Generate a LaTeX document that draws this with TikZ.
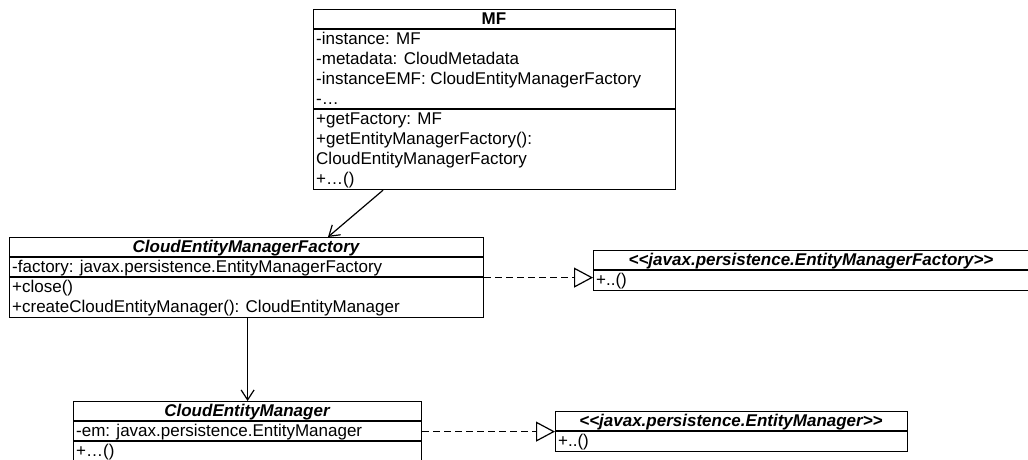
\documentclass[tikz,border=0pt]{standalone}
\usepackage{fontspec}
\newfontfamily\umlfont{Liberation Sans}
\usetikzlibrary{arrows.meta}
\tikzset{
  umlbox/.style={draw, line width=1.2pt, inner sep=0pt, anchor=north west},
  sep/.style={line width=1.2pt},
  member/.style={anchor=base west, inner sep=0pt, font=\umlfont\fontsize{17}{20}\selectfont},
  classname/.style={anchor=base, inner sep=0pt, font=\umlfont\fontsize{17}{20}\selectfont\bfseries},
  abstractname/.style={classname, font=\umlfont\fontsize{17}{20}\selectfont\bfseries\itshape},
  assoc/.style={line width=1.2pt, -{Straight Barb[length=10pt,width=13pt,line width=1.2pt]}},
  realize/.style={line width=1.2pt, dash pattern=on 7pt off 4pt,
    -{Triangle[open,length=19pt,width=20pt,line width=1.2pt,fill=white]}}
}
\begin{document}
\begin{tikzpicture}[x=1pt,y=-1pt]
\useasboundingbox (0,0) rectangle (1028,459);

% class MF
\node[umlbox, minimum width=362pt, minimum height=180pt] (mf) at (313,9) {};
\draw[sep] (313,29) -- (675,29);
\draw[sep] (313,109) -- (675,109);
\node[classname] (mfname) at (494,24.5) {MF};
\node[member] (mfa1) at (316,44.5) {-instance: MF};
\node[member] (mfa2) at (316,64.5) {-metadata: CloudMetadata};
\node[member] (mfa3) at (316,84.5) {-instanceEMF: CloudEntityManagerFactory};
\node[member] (mfa4) at (316,104.5) {-…};
\node[member] (mfm1) at (316,124.5) {+getFactory: MF};
\node[member] (mfm2) at (316,144.5) {+getEntityManagerFactory():};
\node[member] (mfm3) at (316,164.5) {CloudEntityManagerFactory};
\node[member] (mfm4) at (316,184.5) {+…()};

% class CloudEntityManagerFactory
\node[umlbox, minimum width=474pt, minimum height=80pt] (cemf) at (9,237) {};
\draw[sep] (9,257) -- (483,257);
\draw[sep] (9,277) -- (483,277);
\node[abstractname] (cemfname) at (246,252.5) {CloudEntityManagerFactory};
\node[member] (cemfa1) at (12,272.5) {-factory: javax.persistence.EntityManagerFactory};
\node[member] (cemfm1) at (12,292.5) {+close()};
\node[member] (cemfm2) at (12,312.5) {+createCloudEntityManager(): CloudEntityManager};

% interface javax.persistence.EntityManagerFactory
\node[umlbox, minimum width=436pt, minimum height=40pt] (emf) at (593,250) {};
\draw[sep] (593,270) -- (1029,270);
\node[abstractname] (emfname) at (811,265.5) {<<javax.persistence.EntityManagerFactory>>};
\node[member] (emfm1) at (596,285.5) {+..()};

% class CloudEntityManager
\node[umlbox, minimum width=348pt, minimum height=60pt] (cem) at (73,401) {};
\draw[sep] (73,421) -- (421,421);
\draw[sep] (73,441) -- (421,441);
\node[abstractname] (cemname) at (247,416.5) {CloudEntityManager};
\node[member] (cema1) at (76,436.5) {-em: javax.persistence.EntityManager};
\node[member] (cemm1) at (76,456.5) {+…()};

% interface javax.persistence.EntityManager
\node[umlbox, minimum width=352pt, minimum height=40pt] (em) at (555,411) {};
\draw[sep] (555,431) -- (907,431);
\node[abstractname] (emname) at (731,426.5) {<<javax.persistence.EntityManager>>};
\node[member] (emm1) at (558,446.5) {+..()};

% associations
\draw[assoc] ([xshift=70pt]mf.south west) -- ([xshift=319pt]cemf.north west);
\draw[assoc] (cemf.south -| cem.north) -- (cem.north);

% realizations
\draw[realize] (cemf.east) -- ([yshift=-7pt]emf.west);
\draw[realize] (cem.east) -- (em.west);
\end{tikzpicture}
\end{document}
